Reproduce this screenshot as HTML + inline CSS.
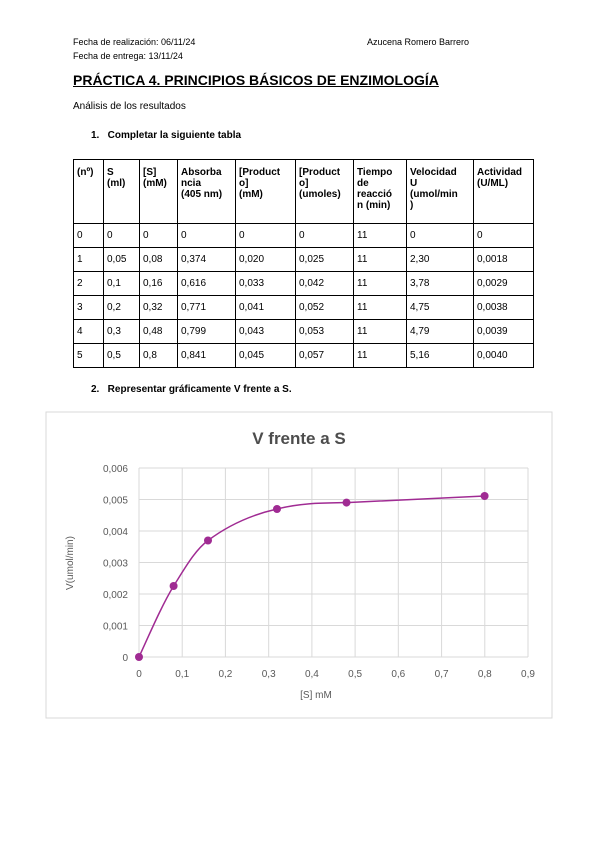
<!DOCTYPE html>
<html><head><meta charset="utf-8"><style>
body{margin:0;width:600px;height:848px;background:#fff;font-family:"Liberation Sans",sans-serif;color:#000;position:relative;overflow:hidden}
.a{position:absolute;white-space:nowrap}
table{position:absolute;left:73px;top:159px;border-collapse:collapse;font-size:10px}
td{border:1px solid #000;padding:2px 3px;vertical-align:top;line-height:11px}
tr.b td{height:24px;padding:0 3px;vertical-align:middle;box-sizing:border-box}
tr.h td{height:64px;font-weight:bold;box-sizing:border-box;padding-top:7px}
</style></head><body>
<div class="a" style="left:73px;top:37px;font-size:9px">Fecha de realización: 06/11/24</div>
<div class="a" style="left:367px;top:37px;font-size:9px">Azucena Romero Barrero</div>
<div class="a" style="left:73px;top:51px;font-size:9px">Fecha de entrega: 13/11/24</div>
<div class="a" style="left:73px;top:72px;font-size:14px;font-weight:bold;text-decoration:underline">PRÁCTICA 4. PRINCIPIOS BÁSICOS DE ENZIMOLOGÍA</div>
<div class="a" style="left:73px;top:101px;font-size:10px">Análisis de los resultados</div>
<div class="a" style="left:91px;top:130px;font-size:10px;font-weight:bold">1.&nbsp;&nbsp;&nbsp;Completar la siguiente tabla</div>
<table>
<colgroup><col style="width:30px"><col style="width:36px"><col style="width:38px"><col style="width:58px"><col style="width:60px"><col style="width:58px"><col style="width:53px"><col style="width:67px"><col style="width:60px"></colgroup>
<tr class="h"><td>(nº)</td><td>S<br>(ml)</td><td>[S]<br>(mM)</td><td>Absorba<br>ncia<br>(405 nm)</td><td>[Product<br>o]<br>(mM)</td><td>[Product<br>o]<br>(umoles)</td><td>Tiempo<br>de<br>reacció<br>n (min)</td><td>Velocidad<br>U<br>(umol/min<br>)</td><td>Actividad<br>(U/ML)</td></tr>
<tr class="b"><td>0</td><td>0</td><td>0</td><td>0</td><td>0</td><td>0</td><td>11</td><td>0</td><td>0</td></tr>
<tr class="b"><td>1</td><td>0,05</td><td>0,08</td><td>0,374</td><td>0,020</td><td>0,025</td><td>11</td><td>2,30</td><td>0,0018</td></tr>
<tr class="b"><td>2</td><td>0,1</td><td>0,16</td><td>0,616</td><td>0,033</td><td>0,042</td><td>11</td><td>3,78</td><td>0,0029</td></tr>
<tr class="b"><td>3</td><td>0,2</td><td>0,32</td><td>0,771</td><td>0,041</td><td>0,052</td><td>11</td><td>4,75</td><td>0,0038</td></tr>
<tr class="b"><td>4</td><td>0,3</td><td>0,48</td><td>0,799</td><td>0,043</td><td>0,053</td><td>11</td><td>4,79</td><td>0,0039</td></tr>
<tr class="b"><td>5</td><td>0,5</td><td>0,8</td><td>0,841</td><td>0,045</td><td>0,057</td><td>11</td><td>5,16</td><td>0,0040</td></tr>
</table>
<div class="a" style="left:91px;top:384px;font-size:10px;font-weight:bold">2.&nbsp;&nbsp;&nbsp;Representar gráficamente V frente a S.</div>
<svg class="a" style="left:0;top:0" width="600" height="848" font-family="Liberation Sans, sans-serif">
<rect x="46" y="412" width="506" height="306" fill="#fff" stroke="#d9d9d9"/>
<text x="299" y="444" text-anchor="middle" font-size="17" font-weight="bold" fill="#4d4d4d">V frente a S</text>
<g stroke="#d9d9d9" stroke-width="1">
<line x1="139" y1="468" x2="528" y2="468"/><line x1="139" y1="499.5" x2="528" y2="499.5"/><line x1="139" y1="531" x2="528" y2="531"/><line x1="139" y1="562.5" x2="528" y2="562.5"/><line x1="139" y1="594" x2="528" y2="594"/><line x1="139" y1="625.5" x2="528" y2="625.5"/><line x1="139" y1="657" x2="528" y2="657"/>
<line x1="139" y1="468" x2="139" y2="657"/><line x1="182.2" y1="468" x2="182.2" y2="657"/><line x1="225.4" y1="468" x2="225.4" y2="657"/><line x1="268.7" y1="468" x2="268.7" y2="657"/><line x1="311.9" y1="468" x2="311.9" y2="657"/><line x1="355.1" y1="468" x2="355.1" y2="657"/><line x1="398.3" y1="468" x2="398.3" y2="657"/><line x1="441.6" y1="468" x2="441.6" y2="657"/><line x1="484.8" y1="468" x2="484.8" y2="657"/><line x1="528" y1="468" x2="528" y2="657"/>
</g>
<g font-size="10" fill="#595959" text-anchor="end">
<text x="128" y="472">0,006</text><text x="128" y="503.5">0,005</text><text x="128" y="535">0,004</text><text x="128" y="566.5">0,003</text><text x="128" y="598">0,002</text><text x="128" y="629.5">0,001</text><text x="128" y="661">0</text>
</g>
<g font-size="10" fill="#595959" text-anchor="middle">
<text x="139" y="677">0</text><text x="182.2" y="677">0,1</text><text x="225.4" y="677">0,2</text><text x="268.7" y="677">0,3</text><text x="311.9" y="677">0,4</text><text x="355.1" y="677">0,5</text><text x="398.3" y="677">0,6</text><text x="441.6" y="677">0,7</text><text x="484.8" y="677">0,8</text><text x="528" y="677">0,9</text>
<text x="316" y="698">[S] mM</text>
<text transform="translate(73,563) rotate(-90)">V(umol/min)</text>
</g>
<path d="M139,657 C150,633 162,605 173.6,586 C185,568 195,550 208,540.5 C230,524 255,514 277,509 C300,503 320,503 346.5,502.6 L484.6,496" fill="none" stroke="#a02b93" stroke-width="1.5"/>
<g fill="#a02b93"><circle cx="139" cy="657" r="4"/><circle cx="173.6" cy="586" r="4"/><circle cx="208" cy="540.5" r="4"/><circle cx="277" cy="509" r="4"/><circle cx="346.5" cy="502.6" r="4"/><circle cx="484.6" cy="496" r="4"/></g>
</svg>
</body></html>
